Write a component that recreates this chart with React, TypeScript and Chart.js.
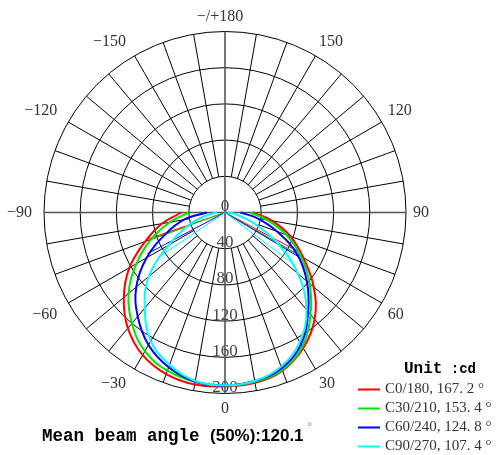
import React, { useEffect, useRef } from 'react';
import { Chart, registerables } from 'chart.js';

Chart.register(...registerables);

// ---- data (gamma in degrees, intensity in cd) ----
const GAMMA = [-90, -80, -70, -60, -50, -40, -30, -20, -10, 0, 10, 20, 30, 40, 50, 60, 70, 80, 90];
const C0_180 = [48, 71, 94, 122, 146, 167, 182, 190, 193, 192, 191, 186, 173, 154, 128, 100, 77, 53, 31];
const C30_210 = [40, 62, 87, 113, 139, 160, 177, 186, 190, 191, 190, 185, 171, 147, 122, 97, 72, 47, 28];
const C60_240 = [20, 46, 70, 100, 128, 150, 169, 182, 190, 191, 189, 183, 168, 143, 118, 92, 61, 36, 17];
const C90_270 = [9, 23, 45, 72, 110, 138, 164, 179, 189, 191, 189, 181, 165, 140, 105, 66, 33, 12, 3];

const SERIES_NAMES = ['C0/180', 'C30/210', 'C60/240', 'C90/270'];
const BEAM_ANGLES = ['167. 2', '153. 4', '124. 8', '107. 4'];
const COLORS = ['#ff0000', '#00e600', '#0000ff', '#00ffff'];

// half-intensity marker lines (from centre to curve)
const HALF_GAMMA_LEFT = [-71, -70, -62, -56];
const HALF_VALUE_LEFT = [92, 89, 97, 90];
const HALF_GAMMA_RIGHT = [62, 60, 59, 53];
const HALF_VALUE_RIGHT = [95, 97, 94, 96];

const RING_VALUES = [40, 80, 120, 160, 200];
const TICK_LABELS = ['0', '40', '80', '120', '160', '200'];
const ANGLE_VALUES = [0, 30, 60, 90, 120, 150, 180, -150, -120, -90, -60, -30];
const ANGLE_TEXT = ['0', '30', '60', '90', '120', '150', '\u2212/+180', '\u2212150', '\u2212120', '\u221290', '\u221260', '\u221230'];
const MEAN_BEAM_LABEL = 'Mean beam angle ';
const MEAN_BEAM_VALUE = '(50%):120.1';
const MAX_VALUE = 200;

const rad = (d: number) => (d * Math.PI) / 180;
const toXY = (g: number, v: number) => ({ x: v * Math.sin(rad(g)), y: -v * Math.cos(rad(g)) });

const polarPlugin = {
  id: 'polarGrid',
  beforeDatasetsDraw(chart: any) {
    const { ctx } = chart;
    const xs = chart.scales.x;
    const ys = chart.scales.y;
    const P = (g: number, v: number) => {
      const p = toXY(g, v);
      return [xs.getPixelForValue(p.x), ys.getPixelForValue(p.y)];
    };
    const cx = xs.getPixelForValue(0);
    const cy = ys.getPixelForValue(0);
    const R = (v: number) => xs.getPixelForValue(v) - cx;
    ctx.save();
    ctx.strokeStyle = '#000';
    ctx.lineWidth = 1;
    RING_VALUES.forEach((v) => {
      ctx.beginPath();
      ctx.arc(cx, cy, R(v), 0, Math.PI * 2);
      ctx.stroke();
    });
    for (let a = -170; a <= 180; a += 10) {
      if (a % 90 === 0) continue;
      const [x1, y1] = P(a, RING_VALUES[0]);
      const [x2, y2] = P(a, MAX_VALUE);
      ctx.beginPath();
      ctx.moveTo(x1, y1);
      ctx.lineTo(x2, y2);
      ctx.stroke();
    }
    ctx.strokeStyle = '#555';
    ctx.lineWidth = 1.6;
    [[0, 180], [90, -90]].forEach(([a, b]) => {
      const [x1, y1] = P(a, MAX_VALUE);
      const [x2, y2] = P(b, MAX_VALUE);
      ctx.beginPath();
      ctx.moveTo(x1, y1);
      ctx.lineTo(x2, y2);
      ctx.stroke();
    });
    // radial tick labels along the 0° direction
    ctx.fillStyle = '#444';
    ctx.font = '17px "Liberation Serif", serif';
    ctx.textAlign = 'center';
    ctx.textBaseline = 'middle';
    TICK_LABELS.forEach((t, i) => {
      const v = i === 0 ? 0 : RING_VALUES[i - 1];
      const [x, y] = P(0, v);
      ctx.fillText(t, x, y - 6);
    });
    // angle labels
    ctx.fillStyle = '#333';
    ctx.font = '16px "Liberation Serif", serif';
    const edge = R(MAX_VALUE) + 7;
    ANGLE_VALUES.forEach((a, i) => {
      const x = cx + edge * Math.sin(rad(a));
      const y = cy + edge * Math.cos(rad(a));
      let align: CanvasTextAlign = 'center';
      let base: CanvasTextBaseline = 'middle';
      if (a === 0) { base = 'top'; }
      else if (a === 180) { base = 'bottom'; }
      else if (a === 90) { align = 'left'; }
      else if (a === -90) { align = 'right'; }
      else {
        align = a > 0 ? 'left' : 'right';
        base = Math.abs(a) < 90 ? 'top' : 'bottom';
      }
      ctx.textAlign = align;
      ctx.textBaseline = base;
      let dx = 0;
      if (a < 0) dx = -5;
      if (a === 180) dx = -5;
      ctx.fillText(ANGLE_TEXT[i], x + dx, y);
    });
    ctx.restore();
  },
  afterDraw(chart: any) {
    const { ctx } = chart;
    ctx.save();
    // mean beam angle caption
    ctx.fillStyle = '#000';
    ctx.textAlign = 'left';
    ctx.textBaseline = 'alphabetic';
    ctx.font = 'bold 17.5px "Liberation Mono", monospace';
    ctx.fillText(MEAN_BEAM_LABEL, 42, 441);
    let w = ctx.measureText(MEAN_BEAM_LABEL).width;
    ctx.font = 'bold 17px "Liberation Sans", sans-serif';
    ctx.fillText(MEAN_BEAM_VALUE, 42 + w, 441);
    w += ctx.measureText(MEAN_BEAM_VALUE).width;
    ctx.fillStyle = '#666';
    ctx.font = '11px "Liberation Serif", serif';
    ctx.fillText('\u00b0', 42 + w + 4, 430);
    // legend
    ctx.fillStyle = '#000';
    ctx.font = 'bold 16px "Liberation Mono", monospace';
    ctx.fillText('Unit', 404, 373);
    const uw = ctx.measureText('Unit').width;
    ctx.font = 'bold 14px "Liberation Mono", monospace';
    ctx.fillText(' :cd', 404 + uw, 373);
    SERIES_NAMES.forEach((n, i) => {
      const y = 389.5 + i * 19;
      ctx.strokeStyle = COLORS[i];
      ctx.lineWidth = 2;
      ctx.beginPath();
      ctx.moveTo(358, y);
      ctx.lineTo(380, y);
      ctx.stroke();
      ctx.fillStyle = '#333';
      ctx.font = '15px "Liberation Serif", serif';
      ctx.textBaseline = 'middle';
      ctx.fillText(`${n}, ${BEAM_ANGLES[i]} \u00b0`, 385, y);
    });
    ctx.restore();
  },
};

export default function App() {
  const ref = useRef<HTMLCanvasElement>(null);
  useEffect(() => {
    const series = [C0_180, C30_210, C60_240, C90_270];
    const datasets: any[] = [];
    series.forEach((vals, i) => {
      datasets.push({
        label: SERIES_NAMES[i],
        data: GAMMA.map((g, k) => toXY(g, vals[k])),
        showLine: true,
        borderColor: COLORS[i],
        backgroundColor: COLORS[i],
        borderWidth: 2,
        pointRadius: 0,
        tension: 0.4,
        fill: false,
        order: 10 - i,
      });
      datasets.push({
        label: SERIES_NAMES[i] + ' 50%',
        data: [
          toXY(HALF_GAMMA_LEFT[i], HALF_VALUE_LEFT[i]),
          { x: 0, y: 0 },
          toXY(HALF_GAMMA_RIGHT[i], HALF_VALUE_RIGHT[i]),
        ],
        showLine: true,
        borderColor: COLORS[i],
        borderWidth: 1,
        pointRadius: 0,
        tension: 0,
        fill: false,
        order: 10 - i,
      });
    });
    const chart = new Chart(ref.current as HTMLCanvasElement, {
      type: 'scatter',
      data: { datasets },
      options: {
        animation: false,
        responsive: true,
        maintainAspectRatio: false,
        layout: { padding: { left: 44, right: 91, top: 31.5, bottom: 61.5 } },
        scales: {
          x: { type: 'linear', min: -MAX_VALUE, max: MAX_VALUE, display: false },
          y: { type: 'linear', min: -MAX_VALUE, max: MAX_VALUE, display: false },
        },
        plugins: { legend: { display: false }, tooltip: { enabled: false }, title: { display: false } },
        events: [],
      },
      plugins: [polarPlugin],
    } as any);
    return () => chart.destroy();
  }, []);
  return (
    <div style={{ position: 'fixed', left: 0, top: 0, width: 497, height: 455, background: '#fff' }}>
      <canvas ref={ref} />
    </div>
  );
}
